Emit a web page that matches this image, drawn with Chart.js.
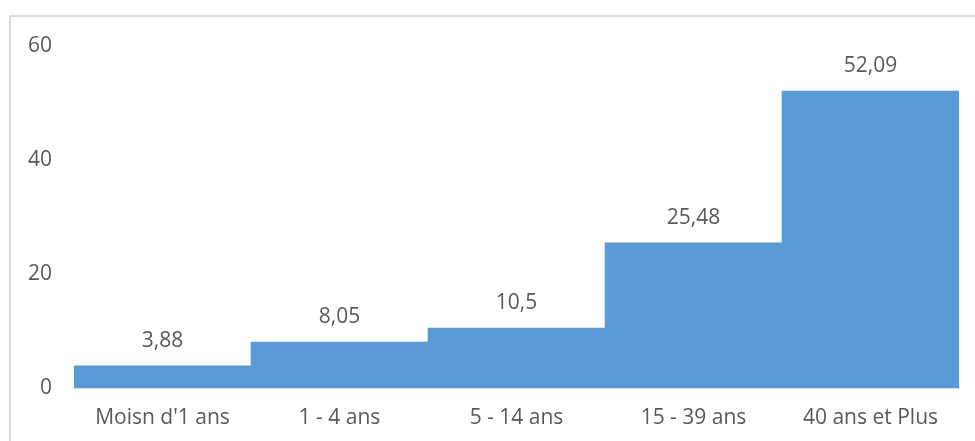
<!DOCTYPE html>
<html lang="fr">
<head>
  <meta charset="utf-8">
  <title>Répartition par âge</title>
  <script type="text/javascript" src="https://cdn.jsdelivr.net/npm/chart.js"></script>
  <style type="text/css">
    html, body { margin:0; padding:0; background:#fff; }
    #wrap { position:relative; width:975px; height:441px; overflow:hidden; }
    #frame { position:absolute; left:9px; top:15px; width:2000px; height:2000px;
             border-top:2px solid #dcdcdc; border-left:2px solid #dcdcdc; }
    #chart { position:absolute; left:0; top:0; }
  </style>
</head>
<body>
  <div id="wrap">
    <div id="frame"></div>
    <canvas id="chart" width="975" height="441"></canvas>
  </div>

  <script type="text/javascript">
    const categories = ["Moisn d'1 ans", "1 - 4 ans", "5 - 14 ans", "15 - 39 ans", "40 ans et Plus"];
    const values = [3.88, 8.05, 10.5, 25.48, 52.09];
    const yTicks = [0, 20, 40, 60];

    const fmt = v => String(v).replace('.', ',');

    // value labels above each bar
    const barLabels = {
      id: 'barLabels',
      afterDatasetsDraw(chart) {
        const ctx = chart.ctx;
        const meta = chart.getDatasetMeta(0);
        ctx.save();
        ctx.font = '21px "Open Sans"';
        ctx.fillStyle = '#595959';
        ctx.textAlign = 'center';
        ctx.textBaseline = 'middle';
        meta.data.forEach((bar, i) => {
          ctx.fillText(fmt(values[i]), bar.x, bar.y - 25);
        });
        ctx.restore();
      }
    };

    new Chart(document.getElementById('chart'), {
      type: 'bar',
      data: {
        labels: categories,
        datasets: [{
          data: values,
          backgroundColor: '#5b9bd5',
          borderWidth: 0,
          categoryPercentage: 1,
          barPercentage: 1
        }]
      },
      options: {
        responsive: false,
        animation: false,
        layout: { padding: { top: 46, right: 16, bottom: 0, left: 0 } },
        plugins: { legend: { display: false }, tooltip: { enabled: false } },
        scales: {
          x: {
            grid: { display: false, drawTicks: false },
            border: { color: '#d9d9d9', width: 2 },
            ticks: { color: '#595959', font: { family: 'Open Sans', size: 21 }, padding: 17, maxRotation: 0 },
            afterFit: s => { s.height = 53; }
          },
          y: {
            min: yTicks[0],
            max: yTicks[yTicks.length - 1],
            afterBuildTicks: s => { s.ticks = yTicks.map(v => ({ value: v })); },
            grid: { display: false, drawTicks: false },
            border: { display: false },
            ticks: { color: '#595959', font: { family: 'Open Sans', size: 21 }, padding: 22 },
            afterFit: s => { s.width = 74; }
          }
        }
      },
      plugins: [barLabels]
    });
  </script>
</body>
</html>
